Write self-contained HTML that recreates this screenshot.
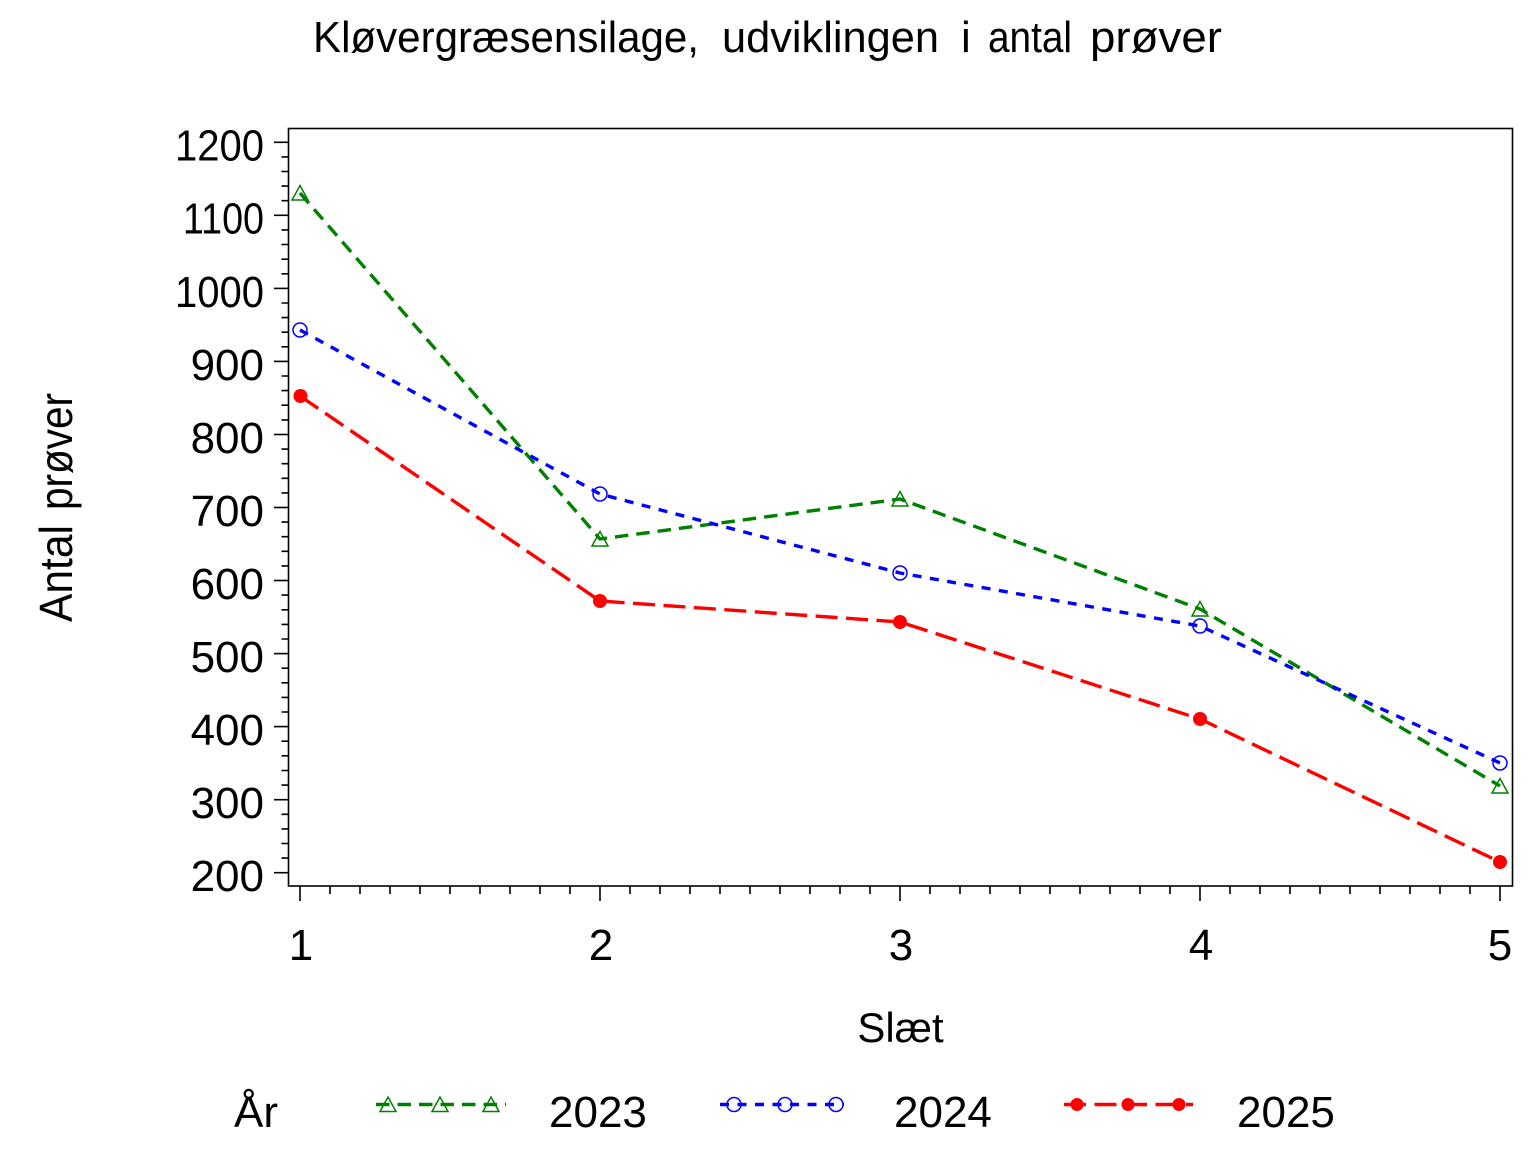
<!DOCTYPE html>
<html>
<head>
<meta charset="utf-8">
<style>
  html, body { margin:0; padding:0; background:#fff; }
  svg { display:block; }
  text { font-family: "Liberation Sans", Arial, sans-serif; fill:#000; }
</style>
</head>
<body>
<svg width="1536" height="1152" viewBox="0 0 1536 1152" xmlns="http://www.w3.org/2000/svg">
  <rect x="0" y="0" width="1536" height="1152" fill="#fff"/>

  <!-- Title -->
  <g font-size="44">
    <text x="313" y="52" textLength="386" lengthAdjust="spacingAndGlyphs">Kløvergræsensilage,</text>
    <text x="722" y="52" textLength="217" lengthAdjust="spacingAndGlyphs">udviklingen</text>
    <text x="961" y="52">i</text>
    <text x="988" y="52" textLength="84" lengthAdjust="spacingAndGlyphs">antal</text>
    <text x="1090" y="52" textLength="132" lengthAdjust="spacingAndGlyphs">prøver</text>
  </g>

  <!-- Frame -->
  <rect x="288.5" y="128.5" width="1224" height="757.5" fill="none" stroke="#000" stroke-width="1.6"/>

  <!-- Y ticks -->
  <g stroke="#000" stroke-width="1.6">
    <line x1="274" y1="142.3" x2="288.5" y2="142.3"/>
    <line x1="274" y1="215.3" x2="288.5" y2="215.3"/>
    <line x1="274" y1="288.4" x2="288.5" y2="288.4"/>
    <line x1="274" y1="361.4" x2="288.5" y2="361.4"/>
    <line x1="274" y1="434.5" x2="288.5" y2="434.5"/>
    <line x1="274" y1="507.5" x2="288.5" y2="507.5"/>
    <line x1="274" y1="580.5" x2="288.5" y2="580.5"/>
    <line x1="274" y1="653.6" x2="288.5" y2="653.6"/>
    <line x1="274" y1="726.6" x2="288.5" y2="726.6"/>
    <line x1="274" y1="799.7" x2="288.5" y2="799.7"/>
    <line x1="274" y1="872.7" x2="288.5" y2="872.7"/>
    <path d="
      M281.5 156.9H288.5 M281.5 171.5H288.5 M281.5 186.1H288.5 M281.5 200.7H288.5
      M281.5 229.9H288.5 M281.5 244.5H288.5 M281.5 259.2H288.5 M281.5 273.8H288.5
      M281.5 303.0H288.5 M281.5 317.6H288.5 M281.5 332.2H288.5 M281.5 346.8H288.5
      M281.5 376.0H288.5 M281.5 390.6H288.5 M281.5 405.2H288.5 M281.5 419.9H288.5
      M281.5 449.1H288.5 M281.5 463.7H288.5 M281.5 478.3H288.5 M281.5 492.9H288.5
      M281.5 522.1H288.5 M281.5 536.7H288.5 M281.5 551.3H288.5 M281.5 565.9H288.5
      M281.5 595.1H288.5 M281.5 609.8H288.5 M281.5 624.4H288.5 M281.5 639.0H288.5
      M281.5 668.2H288.5 M281.5 682.8H288.5 M281.5 697.4H288.5 M281.5 712.0H288.5
      M281.5 741.2H288.5 M281.5 755.8H288.5 M281.5 770.5H288.5 M281.5 785.1H288.5
      M281.5 814.3H288.5 M281.5 828.9H288.5 M281.5 843.5H288.5 M281.5 858.1H288.5
    " fill="none"/>
  </g>

  <!-- Y tick labels -->
  <g font-size="44" text-anchor="end">
    <text x="264" y="160.7" textLength="89" lengthAdjust="spacingAndGlyphs">1200</text>
    <text x="264" y="233.7" textLength="81" lengthAdjust="spacingAndGlyphs">1100</text>
    <text x="264" y="306.8" textLength="89" lengthAdjust="spacingAndGlyphs">1000</text>
    <text x="264" y="379.8">900</text>
    <text x="264" y="452.9">800</text>
    <text x="264" y="525.9">700</text>
    <text x="264" y="598.9">600</text>
    <text x="264" y="672.0">500</text>
    <text x="264" y="745.0">400</text>
    <text x="264" y="818.1">300</text>
    <text x="264" y="891.1">200</text>
  </g>

  <!-- X ticks -->
  <g stroke="#000" stroke-width="1.6">
    <path d="M300 886V901 M600 886V901 M900 886V901 M1200 886V901 M1500 886V901" fill="none"/>
    <path d="
      M330 886V894 M360 886V894 M390 886V894 M420 886V894 M450 886V894 M480 886V894 M510 886V894 M540 886V894 M570 886V894
      M630 886V894 M660 886V894 M690 886V894 M720 886V894 M750 886V894 M780 886V894 M810 886V894 M840 886V894 M870 886V894
      M930 886V894 M960 886V894 M990 886V894 M1020 886V894 M1050 886V894 M1080 886V894 M1110 886V894 M1140 886V894 M1170 886V894
      M1230 886V894 M1260 886V894 M1290 886V894 M1320 886V894 M1350 886V894 M1380 886V894 M1410 886V894 M1440 886V894 M1470 886V894
    " fill="none"/>
  </g>

  <!-- X tick labels -->
  <g font-size="44" text-anchor="middle">
    <text x="301" y="960">1</text>
    <text x="601" y="960">2</text>
    <text x="901" y="960">3</text>
    <text x="1201" y="960">4</text>
    <text x="1500" y="960">5</text>
  </g>

  <!-- Axis labels -->
  <text x="900.5" y="1042" font-size="42" text-anchor="middle">Slæt</text>
  <g transform="translate(72,622) rotate(-90)" font-size="46">
    <text x="0" y="0" textLength="97" lengthAdjust="spacingAndGlyphs">Antal</text>
    <text x="112" y="0" textLength="117" lengthAdjust="spacingAndGlyphs">prøver</text>
  </g>

  <!-- Series 2023 (green) -->
  <polyline points="300,193 600,539 900,499 1200,609 1500,786" fill="none" stroke="#008000" stroke-width="3.4" stroke-dasharray="13.5 8"/>
  <g fill="none" stroke="#008000" stroke-width="1.5">
    <polygon points="292,200 308,200 300,185.5"/>
    <polygon points="592,546 608,546 600,531.5"/>
    <polygon points="892,506 908,506 900,491.5"/>
    <polygon points="1192,616 1208,616 1200,601.5"/>
    <polygon points="1492,793 1508,793 1500,778.5"/>
  </g>

  <!-- Series 2024 (blue) -->
  <polyline points="300,330 600,494 900,573 1200,626 1500,763" fill="none" stroke="#0000ff" stroke-width="3.4" stroke-dasharray="9 8.5"/>
  <g fill="none" stroke="#0000ff" stroke-width="1.5">
    <circle cx="300" cy="330" r="7"/>
    <circle cx="600" cy="494" r="7"/>
    <circle cx="900" cy="573" r="7"/>
    <circle cx="1200" cy="626" r="7"/>
    <circle cx="1500" cy="763" r="7"/>
  </g>

  <!-- Series 2025 (red) -->
  <polyline points="300,396 600,601 900,622 1200,719 1500,862" fill="none" stroke="#ff0000" stroke-width="3.4" stroke-dasharray="22 8.5"/>
  <g fill="#ff0000">
    <circle cx="300.5" cy="396" r="7"/>
    <circle cx="600" cy="601" r="7"/>
    <circle cx="900" cy="622" r="7"/>
    <circle cx="1200" cy="719" r="7"/>
    <circle cx="1500" cy="862" r="7"/>
  </g>

  <!-- Legend -->
  <g font-size="44">
    <text x="234" y="1127">År</text>
    <text x="549" y="1127">2023</text>
    <text x="894" y="1127">2024</text>
    <text x="1237" y="1127">2025</text>
  </g>
  <line x1="376" y1="1104.5" x2="506" y2="1104.5" stroke="#008000" stroke-width="3.4" stroke-dasharray="13.5 8"/>
  <g fill="none" stroke="#008000" stroke-width="1.5">
    <polygon points="380,1111.5 396,1111.5 388,1097"/>
    <polygon points="432,1111.5 448,1111.5 440,1097"/>
    <polygon points="483,1111.5 499,1111.5 491,1097"/>
  </g>
  <line x1="720" y1="1104.5" x2="844" y2="1104.5" stroke="#0000ff" stroke-width="3.4" stroke-dasharray="9 8.5"/>
  <g fill="none" stroke="#0000ff" stroke-width="1.5">
    <circle cx="734" cy="1104.5" r="7"/>
    <circle cx="785" cy="1104.5" r="7"/>
    <circle cx="836" cy="1104.5" r="7"/>
  </g>
  <line x1="1064" y1="1104.5" x2="1193" y2="1104.5" stroke="#ff0000" stroke-width="3.4" stroke-dasharray="22 8.5"/>
  <g fill="#ff0000">
    <circle cx="1077" cy="1104.5" r="6.5"/>
    <circle cx="1128" cy="1104.5" r="6.5"/>
    <circle cx="1179" cy="1104.5" r="6.5"/>
  </g>
</svg>
</body>
</html>
